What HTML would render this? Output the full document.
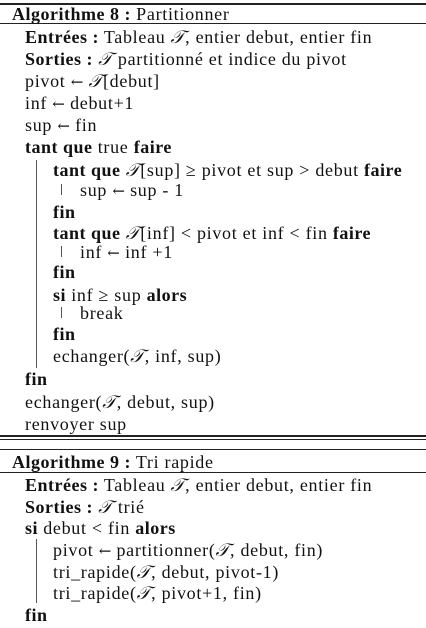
<!DOCTYPE html>
<html><head><meta charset="utf-8"><style>
body{margin:0;width:426px;height:628px;background:#fff;position:relative;overflow:hidden;font-family:"Liberation Serif",serif;font-size:18px;letter-spacing:0.7px;color:#111}
.l{position:absolute;white-space:nowrap;line-height:20px}
.r{position:absolute;left:0;width:426px;background:#222}
.v{position:absolute;width:1px;background:#555}
b{font-weight:bold;letter-spacing:0.5px}
i{font-style:italic;font-family:"Liberation Serif",serif}
.a{font-family:"DejaVu Serif",serif;font-size:15px;letter-spacing:0}
</style></head><body>
<div class="r" style="top:3px;height:2px"></div>
<div class="r" style="top:23px;height:1px"></div>
<div class="l" style="left:12px;top:4px"><b>Algorithme 8 :</b> Partitionner</div>
<div class="l" style="left:25px;top:27px"><b>Entrées :</b> Tableau <i>𝒯</i>, entier debut, entier fin</div>
<div class="l" style="left:25px;top:49px"><b>Sorties :</b> <i>𝒯</i> partitionné et indice du pivot</div>
<div class="l" style="left:25px;top:71px">pivot <span class="a">←</span> <i>𝒯</i>[debut]</div>
<div class="l" style="left:25px;top:93px">inf <span class="a">←</span> debut+1</div>
<div class="l" style="left:25px;top:115px">sup <span class="a">←</span> fin</div>
<div class="l" style="left:25px;top:137px"><b>tant que</b> true <b>faire</b></div>
<div class="v" style="left:36px;top:160px;height:208px"></div>
<div class="l" style="left:53px;top:160px"><b>tant que</b> <i>𝒯</i>[sup] ≥ pivot et sup &gt; debut <b>faire</b></div>
<div class="v" style="left:61px;top:184px;height:11px"></div>
<div class="l" style="left:80px;top:180px">sup <span class="a">←</span> sup - 1</div>
<div class="l" style="left:53px;top:202px"><b>fin</b></div>
<div class="l" style="left:53px;top:223px"><b>tant que</b> <i>𝒯</i>[inf] &lt; pivot et inf &lt; fin <b>faire</b></div>
<div class="v" style="left:61px;top:246px;height:11px"></div>
<div class="l" style="left:80px;top:242px">inf <span class="a">←</span> inf +1</div>
<div class="l" style="left:53px;top:262px"><b>fin</b></div>
<div class="l" style="left:53px;top:285px"><b>si</b> inf ≥ sup <b>alors</b></div>
<div class="v" style="left:61px;top:307px;height:11px"></div>
<div class="l" style="left:80px;top:303px">break</div>
<div class="l" style="left:53px;top:324px"><b>fin</b></div>
<div class="l" style="left:53px;top:346px">echanger(<i>𝒯</i>, inf, sup)</div>
<div class="l" style="left:25px;top:369px"><b>fin</b></div>
<div class="l" style="left:25px;top:392px">echanger(<i>𝒯</i>, debut, sup)</div>
<div class="l" style="left:25px;top:414px">renvoyer sup</div>
<div class="r" style="top:435px;height:2px"></div>
<div class="r" style="top:439px;height:1px"></div>
<div class="r" style="top:449px;height:1px"></div>
<div class="l" style="left:12px;top:452px"><b>Algorithme 9 :</b> Tri rapide</div>
<div class="r" style="top:472px;height:1px"></div>
<div class="l" style="left:25px;top:475px"><b>Entrées :</b> Tableau <i>𝒯</i>, entier debut, entier fin</div>
<div class="l" style="left:25px;top:497px"><b>Sorties :</b> <i>𝒯</i> trié</div>
<div class="l" style="left:25px;top:518px"><b>si</b> debut &lt; fin <b>alors</b></div>
<div class="v" style="left:36px;top:539px;height:64px"></div>
<div class="l" style="left:53px;top:540px">pivot <span class="a">←</span> partitionner(<i>𝒯</i>, debut, fin)</div>
<div class="l" style="left:53px;top:562px">tri_rapide(<i>𝒯</i>, debut, pivot-1)</div>
<div class="l" style="left:53px;top:583px">tri_rapide(<i>𝒯</i>, pivot+1, fin)</div>
<div class="l" style="left:25px;top:605px"><b>fin</b></div>
</body></html>
